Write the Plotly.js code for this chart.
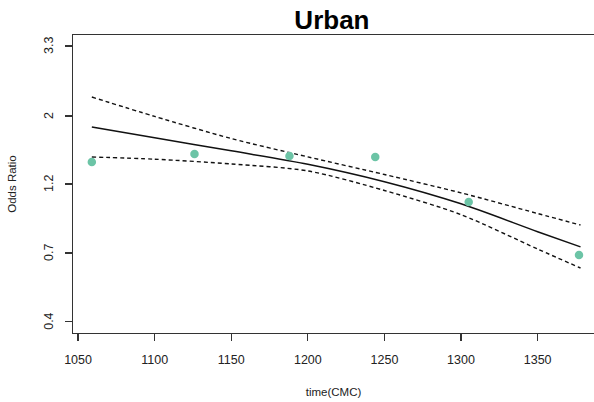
<!DOCTYPE html>
<html>
<head>
<meta charset="utf-8">
<script src="https://cdn.plot.ly/plotly-3.0.1.min.js"></script>
<style>
  html, body { margin: 0; padding: 0; background: #fff; }
  #chart { width: 594px; height: 402px; }
</style>
</head>
<body>
<div id="chart"></div>
<script>
// Observed odds ratios by survey time (century month code)
const obsTime = [1059, 1126, 1188, 1244, 1305, 1377];
const obsOR   = [1.373, 1.459, 1.438, 1.427, 1.013, 0.677];

// Fitted trend and its 95% confidence band
const fitTime  = [1059, 1100, 1150, 1200, 1250, 1300, 1350, 1378];
const fitOR    = [1.793, 1.652, 1.495, 1.350, 1.182, 0.999, 0.808, 0.720];
const upperOR  = [2.252, 1.943, 1.642, 1.428, 1.249, 1.086, 0.928, 0.850];
const lowerOR  = [1.427, 1.403, 1.353, 1.283, 1.106, 0.920, 0.708, 0.613];

// Axis ticks (odds ratio scale is logarithmic)
const xTickVals = [1050, 1100, 1150, 1200, 1250, 1300, 1350];
const yTickVals = [0.407, 0.687, 1.162, 1.949, 3.32];
const yTickText = ['0.4', '0.7', '1.2', '2', '3.3'];

const FONT = 'Liberation Sans, Arial, Helvetica, sans-serif';

const traces = [
  {
    x: fitTime, y: upperOR, type: 'scatter', mode: 'lines',
    line: { color: '#111', width: 1.4, dash: '4px,3px', shape: 'spline', smoothing: 0.8 }, hoverinfo: 'skip'
  },
  {
    x: fitTime, y: lowerOR, type: 'scatter', mode: 'lines',
    line: { color: '#111', width: 1.4, dash: '4px,3px', shape: 'spline', smoothing: 0.8 }, hoverinfo: 'skip'
  },
  {
    x: fitTime, y: fitOR, type: 'scatter', mode: 'lines',
    line: { color: '#111', width: 1.5, shape: 'spline', smoothing: 0.8 }
  },
  {
    x: obsTime, y: obsOR, type: 'scatter', mode: 'markers',
    marker: { color: 'rgb(108,196,166)', size: 8.5, line: { width: 0 } }
  }
];

// Vertical (R-style) y tick labels, placed left of the tick marks
const yLabelAnnotations = yTickVals.map((v, i) => ({
  xref: 'paper', yref: 'y',
  x: 0, y: Math.log10(v),
  xanchor: 'center', yanchor: 'middle',
  xshift: -24,
  textangle: -90,
  text: yTickText[i],
  showarrow: false,
  font: { family: FONT, size: 12.5, color: '#222' }
}));

const layout = {
  width: 594, height: 402,
  margin: { l: 73, r: 0, t: 35, b: 69 },
  paper_bgcolor: '#fff', plot_bgcolor: '#fff',
  showlegend: false,
  font: { family: FONT, color: '#222', size: 12 },
  title: {
    text: '<b>Urban</b>',
    font: { family: FONT, size: 26, color: '#000' },
    x: 0.497, xanchor: 'center', xref: 'paper',
    y: 1 - 20 / 402, yanchor: 'middle', yref: 'container'
  },
  xaxis: {
    range: [1046.7, 1386.8],
    tickvals: xTickVals,
    ticks: 'outside', ticklen: 7, tickwidth: 1.3, tickcolor: '#333',
    showline: true, linecolor: '#333', linewidth: 1.3, mirror: true,
    showgrid: false, zeroline: false,
    ticklabelstandoff: 8,
    tickfont: { family: FONT, size: 12.5, color: '#222' },
    title: { text: 'time(CMC)', font: { family: FONT, size: 11.5, color: '#222' }, standoff: 21 }
  },
  yaxis: {
    type: 'log',
    range: [-0.4274, 0.5576],
    tickvals: yTickVals,
    showticklabels: false,
    ticks: 'outside', ticklen: 7, tickwidth: 1.3, tickcolor: '#333',
    showline: true, linecolor: '#333', linewidth: 1.3,
    showgrid: false, zeroline: false,
    title: { text: 'Odds Ratio', font: { family: FONT, size: 11.5, color: '#222' }, standoff: 45 }
  },
  annotations: yLabelAnnotations
};

Plotly.newPlot('chart', traces, layout, { displayModeBar: false, staticPlot: true });
</script>
</body>
</html>
